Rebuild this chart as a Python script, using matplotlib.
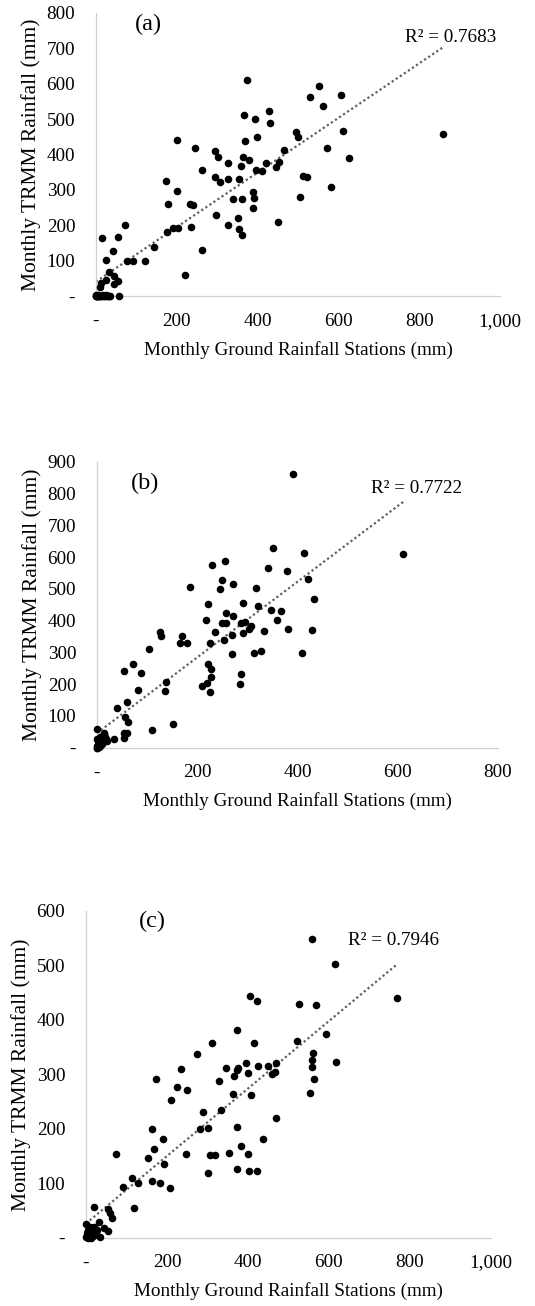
import numpy as np
import matplotlib
matplotlib.use("Agg")
import matplotlib.pyplot as plt
from matplotlib.ticker import FuncFormatter, MultipleLocator

plt.rcParams['font.family'] = ['Liberation Serif', 'DejaVu Serif']

# ---- Panel (a) ----
xa = [373, 553, 530, 607, 563, 429, 367, 394, 431, 612,
      495, 858, 501, 399, 369, 200, 246, 573, 295, 466,
      302, 363, 378, 627, 328, 422, 454, 358, 445, 397,
      412, 262, 294, 523, 512, 328, 353, 307, 173, 583,
      201, 389, 391, 505, 338, 362, 179, 233, 239, 389,
      297, 351, 450, 328, 73, 234, 191, 202, 353, 177,
      361, 16, 54, 43, 262, 143, 26, 78, 92, 121,
      220, 31, 45, 55, 45, 26, 10, 12, 57,
      0, 3, 8, 13, 18, 22, 28, 33,
      1, 2, 5, 6, 10, 15, 20, 25, 30, 35, 4, 0]
ya = [611, 594, 562, 567, 538, 524, 512, 500, 488, 466,
      463, 459, 448, 448, 437, 442, 419, 419, 411, 412,
      394, 393, 385, 389, 377, 375, 378, 366, 364, 357,
      352, 355, 337, 336, 338, 331, 330, 322, 325, 308,
      296, 293, 276, 280, 273, 273, 261, 261, 257, 248,
      230, 220, 210, 200, 201, 194, 192, 191, 188, 180,
      172, 163, 166, 128, 129, 138, 102, 100, 100, 100,
      59, 67, 55, 43, 35, 45, 26, 36, 1,
      2, 0, 1, 0, 2, 0, 1, 0,
      0, 1, 0, 2, 0, 1, 0, 2, 0, 1, 0, 0]

# ---- Panel (b) ----
xb = [391, 611, 351, 413, 255, 230, 341, 380, 420, 249,
      272, 185, 317, 246, 433, 292, 222, 322, 347, 368,
      258, 272, 217, 360, 249, 258, 287, 296, 308, 303,
      382, 429, 334, 125, 128, 235, 292, 270, 170, 166,
      180, 226, 254, 103, 270, 314, 327, 410, 72, 54,
      88, 221, 228, 228, 288, 137, 209, 219, 286, 82,
      136, 226, 60, 40, 56, 61, 151, 109, 53, 59,
      53, 33, 0, 13,
      0, 2, 3, 5, 8, 10, 12, 15, 5, 18, 20, 3, 6, 14, 0, 9,
      1, 2, 4, 6, 0]
yb = [860, 609, 629, 614, 586, 575, 565, 555, 532, 528,
      515, 507, 503, 498, 469, 456, 453, 447, 433, 431,
      425, 413, 401, 401, 392, 393, 393, 396, 382, 372,
      375, 370, 366, 363, 353, 363, 360, 355, 353, 330,
      330, 329, 340, 309, 295, 297, 305, 299, 264, 241,
      236, 264, 249, 221, 233, 208, 193, 203, 201, 183,
      179, 176, 145, 124, 97, 81, 76, 56, 45, 45,
      29, 27, 60, 45,
      5, 10, 20, 15, 25, 30, 20, 35, 35, 28, 22, 2, 8, 42, 28, 12,
      0, 3, 1, 4, 0]

# ---- Panel (c) ----
xc = [558, 616, 769, 406, 423, 526, 569, 593, 373, 521,
      311, 414, 274, 561, 559, 617, 395, 469, 450, 425,
      558, 345, 375, 236, 372, 467, 460, 400, 366, 174,
      564, 328, 226, 250, 553, 364, 407, 211, 288, 333,
      470, 162, 282, 301, 372, 191, 438, 384, 168, 154,
      194, 75, 247, 307, 320, 354, 400, 301, 374, 402,
      423, 113, 129, 164, 182, 92, 208, 119, 21, 55,
      59, 64, 31, 0, 45, 54, 10,
      0, 3, 6, 10, 14, 18, 22, 25, 28, 35, 5, 12, 20]
yc = [548, 503, 441, 443, 434, 430, 427, 374, 381, 361,
      357, 358, 338, 340, 327, 322, 321, 321, 316, 316,
      314, 312, 312, 310, 308, 304, 301, 302, 297, 291,
      291, 288, 277, 271, 265, 263, 262, 253, 230, 234,
      219, 199, 199, 202, 204, 181, 181, 168, 162, 147,
      135, 154, 154, 151, 151, 156, 154, 118, 127, 123,
      123, 110, 101, 105, 100, 93, 91, 54, 57, 53,
      45, 37, 29, 25, 18, 12, 20,
      2, 8, 0, 5, 10, 3, 12, 6, 15, 2, 15, 0, 20]

panel_labels = ["(a)", "(b)", "(c)"]
r2_labels = ["R² = 0.7683", "R² = 0.7722", "R² = 0.7946"]
x_maxes = [1000, 800, 1000]
y_maxes = [800, 900, 600]
x_label = "Monthly Ground Rainfall Stations (mm)"
y_label = "Monthly TRMM Rainfall (mm)"

rects = [
    [0.1794, 0.7734, 0.7551, 0.2167],
    [0.1813, 0.4275, 0.7495, 0.2190],
    [0.1607, 0.0523, 0.7564, 0.2502],
]
panel_pos = [(0.131, 0.958), (0.12, 0.925), (0.164, 0.967)]
r2_pos = [(0.879, 0.912), (0.797, 0.907), (0.761, 0.911)]

datasets = [(xa, ya), (xb, yb), (xc, yc)]

fig = plt.figure(figsize=(5.35, 13.06), dpi=100)

def fmt(v, pos):
    if abs(v) < 1e-9:
        return "-"
    return "{:,.0f}".format(v)

FS = 13.8
for i, (xs, ys) in enumerate(datasets):
    ax = fig.add_axes(rects[i])
    xs = np.array(xs, dtype=float)
    ys = np.array(ys, dtype=float)
    ax.scatter(xs, ys, s=30, color="black", zorder=3, clip_on=False, linewidths=0)
    # linear trendline over data range
    m, b = np.polyfit(xs, ys, 1)
    xl = np.array([xs.min(), xs.max()])
    ax.plot(xl, m * xl + b, color="#606060", linestyle=(0, (1, 1.2)), linewidth=1.6, zorder=2)
    ax.set_xlim(0, x_maxes[i])
    ax.set_ylim(0, y_maxes[i])
    ax.xaxis.set_major_locator(MultipleLocator(200))
    ax.yaxis.set_major_locator(MultipleLocator(100))
    ax.xaxis.set_major_formatter(FuncFormatter(fmt))
    ax.yaxis.set_major_formatter(FuncFormatter(fmt))
    ax.tick_params(axis='x', length=0, pad=12, labelsize=FS)
    ax.tick_params(axis='y', length=0, pad=15, labelsize=FS)
    for s in ["top", "right"]:
        ax.spines[s].set_visible(False)
    for s in ["left", "bottom"]:
        ax.spines[s].set_color("#d0d0d0")
        ax.spines[s].set_linewidth(0.9)
    ax.set_xlabel(x_label, fontsize=FS, labelpad=8)
    ax.set_ylabel(y_label, fontsize=15.5, labelpad=4)
    ax.text(panel_pos[i][0], panel_pos[i][1], panel_labels[i], transform=ax.transAxes,
            fontsize=17.5, ha="center", va="center")
    ax.text(r2_pos[i][0], r2_pos[i][1], r2_labels[i], transform=ax.transAxes,
            fontsize=FS, ha="center", va="center")
    ax.patch.set_alpha(0)

fig.savefig("out.png", dpi=100)
